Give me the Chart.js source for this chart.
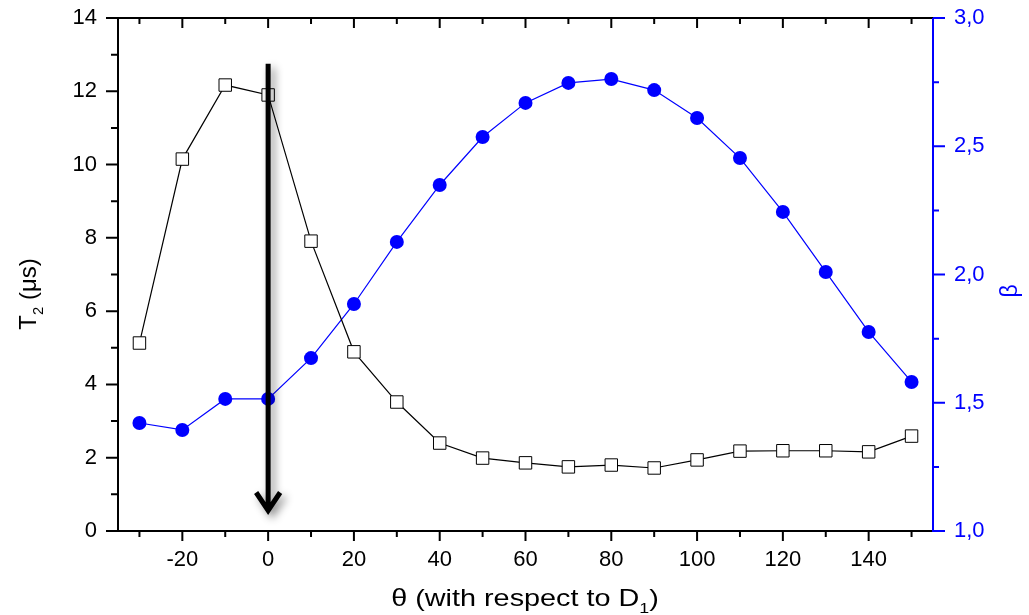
<!DOCTYPE html>
<html>
<head>
<meta charset="utf-8">
<script src="https://cdn.jsdelivr.net/npm/chart.js@4.4.0/dist/chart.umd.min.js"></script>
<style>
html, body { margin: 0; padding: 0; background: #fff; }
#wrap { width: 1029px; height: 615px; }
</style>
</head>
<body>
<div id="wrap"><canvas id="chart"></canvas></div>
<script>
// data
const angles = [-30, -20, -10, 0, 10, 20, 30, 40, 50, 60, 70, 80, 90, 100, 110, 120, 130, 140, 150];
const t2Values = [5.13, 10.15, 12.17, 11.9, 7.91, 4.89, 3.52, 2.40, 1.99, 1.86, 1.75, 1.80, 1.72, 1.94, 2.18, 2.19, 2.19, 2.16, 2.59];
const betaValues = [1.421, 1.394, 1.515, 1.515, 1.674, 1.885, 2.127, 2.349, 2.536, 2.669, 2.747, 2.762, 2.719, 2.610, 2.454, 2.244, 2.010, 1.776, 1.581];

// ticks
const xTicks = [-20, 0, 20, 40, 60, 80, 100, 120, 140];
const xMinor = [-30, -10, 10, 30, 50, 70, 90, 110, 130, 150];
const t2Ticks = [0, 2, 4, 6, 8, 10, 12, 14];
const t2Minor = [1, 3, 5, 7, 9, 11, 13];
const betaTicks = [1.0, 1.5, 2.0, 2.5, 3.0];
const betaMinor = [1.25, 1.75, 2.25, 2.75];

// the arrow at theta = 0 (in T2 units)
const arrowAt = 0;
const arrowFrom = 12.75;
const arrowTo = 0.45;

const BLUE = '#0000ff';
const FONT = '"Liberation Sans", Arial, sans-serif';

function setTicks(list) {
  return function (scale) {
    scale.ticks = list.map(v => ({ value: v }));
  };
}

// draws text with sub-scripted pieces, centred on 0,0 of the current transform
function drawParts(ctx, parts, size) {
  let total = 0;
  parts.forEach(p => {
    ctx.font = (p.sub ? size * 0.62 : size) + 'px ' + FONT;
    total += ctx.measureText(p.t).width;
  });
  let x = -total / 2;
  parts.forEach(p => {
    ctx.font = (p.sub ? size * 0.62 : size) + 'px ' + FONT;
    ctx.fillText(p.t, x, p.sub ? size * 0.3 : 0);
    x += ctx.measureText(p.t).width;
  });
}

const decor = {
  id: 'decor',
  afterDatasetsDraw(chart) {
    const ctx = chart.ctx;
    const xs = chart.scales.x, ys = chart.scales.y;

    // arrow
    const ax = xs.getPixelForValue(arrowAt);
    const y0 = ys.getPixelForValue(arrowFrom);
    const y1 = ys.getPixelForValue(arrowTo);
    ctx.save();
    ctx.shadowColor = 'rgba(0,0,0,0.45)';
    ctx.shadowBlur = 9;
    ctx.shadowOffsetX = 4;
    ctx.shadowOffsetY = 4;
    ctx.strokeStyle = '#000';
    ctx.lineWidth = 5;
    ctx.lineJoin = 'miter';
    ctx.beginPath();
    ctx.moveTo(ax, y0);
    ctx.lineTo(ax, y1 - 4);
    ctx.moveTo(ax - 12, y1 - 22);
    ctx.lineTo(ax, y1 - 4);
    ctx.lineTo(ax + 12, y1 - 22);
    ctx.stroke();
    ctx.restore();
  },
  afterDraw(chart) {
    const ctx = chart.ctx;
    const xs = chart.scales.x, ys = chart.scales.y, bs = chart.scales.y2;
    const a = chart.chartArea;
    ctx.save();
    ctx.lineWidth = 2;

    // black frame: left, bottom, top
    ctx.strokeStyle = '#000';
    ctx.beginPath();
    ctx.moveTo(a.left, a.top - 1);
    ctx.lineTo(a.left, a.bottom);
    ctx.lineTo(a.right, a.bottom);
    ctx.moveTo(a.left, a.top);
    ctx.lineTo(a.right, a.top);
    // left ticks (outside)
    t2Ticks.forEach(v => { const y = ys.getPixelForValue(v); ctx.moveTo(a.left - 12, y); ctx.lineTo(a.left, y); });
    t2Minor.forEach(v => { const y = ys.getPixelForValue(v); ctx.moveTo(a.left - 7, y); ctx.lineTo(a.left, y); });
    // bottom ticks (outside) and top ticks (inside)
    xTicks.forEach(v => {
      const x = xs.getPixelForValue(v);
      ctx.moveTo(x, a.bottom); ctx.lineTo(x, a.bottom + 10);
      ctx.moveTo(x, a.top); ctx.lineTo(x, a.top + 10);
    });
    xMinor.forEach(v => {
      const x = xs.getPixelForValue(v);
      ctx.moveTo(x, a.bottom); ctx.lineTo(x, a.bottom + 6);
      ctx.moveTo(x, a.top); ctx.lineTo(x, a.top + 6);
    });
    ctx.stroke();

    // blue right axis
    ctx.strokeStyle = BLUE;
    ctx.beginPath();
    ctx.moveTo(a.right, a.top);
    ctx.lineTo(a.right, a.bottom + 1);
    betaTicks.forEach(v => { const y = bs.getPixelForValue(v); ctx.moveTo(a.right, y); ctx.lineTo(a.right + 12, y); });
    betaMinor.forEach(v => { const y = bs.getPixelForValue(v); ctx.moveTo(a.right, y); ctx.lineTo(a.right + 6, y); });
    ctx.stroke();

    // axis titles
    ctx.textBaseline = 'alphabetic';
    ctx.textAlign = 'left';
    ctx.fillStyle = '#000';
    ctx.save();
    ctx.translate(525, 606);
    ctx.scale(1.2, 1);
    drawParts(ctx, [{ t: '\u03b8 (with respect to D' }, { t: '1', sub: true }, { t: ')' }], 24);
    ctx.restore();

    ctx.save();
    ctx.translate(36, 294);
    ctx.rotate(-Math.PI / 2);
    drawParts(ctx, [{ t: 'T' }, { t: '2', sub: true }, { t: ' (\u03bcs)' }], 24);
    ctx.restore();

    ctx.save();
    ctx.fillStyle = BLUE;
    ctx.translate(1017, 291);
    ctx.rotate(-Math.PI / 2);
    drawParts(ctx, [{ t: '\u03b2' }], 23);
    ctx.restore();

    ctx.restore();
  }
};

function noPad(scale) {
  scale.paddingTop = 0;
  scale.paddingBottom = 0;
  scale.paddingLeft = 0;
  scale.paddingRight = 0;
}

new Chart(document.getElementById('chart'), {
  type: 'line',
  data: {
    datasets: [
      {
        label: 'T2',
        yAxisID: 'y',
        data: angles.map((x, i) => ({ x: x, y: t2Values[i] })),
        borderColor: '#000',
        borderWidth: 1.2,
        pointStyle: 'rect',
        pointRadius: 8.8,
        pointBackgroundColor: '#fff',
        pointBorderColor: '#000',
        pointBorderWidth: 1,
        tension: 0
      },
      {
        label: 'beta',
        yAxisID: 'y2',
        data: angles.map((x, i) => ({ x: x, y: betaValues[i] })),
        borderColor: BLUE,
        borderWidth: 1.2,
        pointStyle: 'circle',
        pointRadius: 7,
        pointBackgroundColor: BLUE,
        pointBorderColor: BLUE,
        pointBorderWidth: 0,
        tension: 0
      }
    ]
  },
  options: {
    responsive: true,
    maintainAspectRatio: false,
    animation: false,
    layout: { padding: { top: 18, left: 0, right: 0, bottom: 0 } },
    plugins: {
      legend: { display: false },
      tooltip: { enabled: false }
    },
    scales: {
      x: {
        type: 'linear',
        min: -35,
        max: 155,
        afterBuildTicks: setTicks(xTicks),
        afterFit(scale) { scale.height = 84; noPad(scale); },
        grid: { display: false, drawTicks: false },
        border: { display: false },
        ticks: { color: '#000', padding: 16, font: { family: FONT, size: 22 }, maxRotation: 0 }
      },
      y: {
        position: 'left',
        min: 0,
        max: 14,
        afterBuildTicks: setTicks(t2Ticks),
        afterFit(scale) { scale.width = 118; noPad(scale); },
        grid: { display: false, drawTicks: false },
        border: { display: false },
        ticks: { color: '#000', padding: 21, font: { family: FONT, size: 22 } }
      },
      y2: {
        position: 'right',
        min: 1,
        max: 3,
        afterBuildTicks: setTicks(betaTicks),
        afterFit(scale) { scale.width = 96; noPad(scale); },
        grid: { display: false, drawTicks: false },
        border: { display: false },
        ticks: {
          color: BLUE,
          padding: 21,
          font: { family: FONT, size: 22 },
          callback: v => v.toFixed(1).replace('.', ',')
        }
      }
    }
  },
  plugins: [decor]
});
</script>
</body>
</html>
